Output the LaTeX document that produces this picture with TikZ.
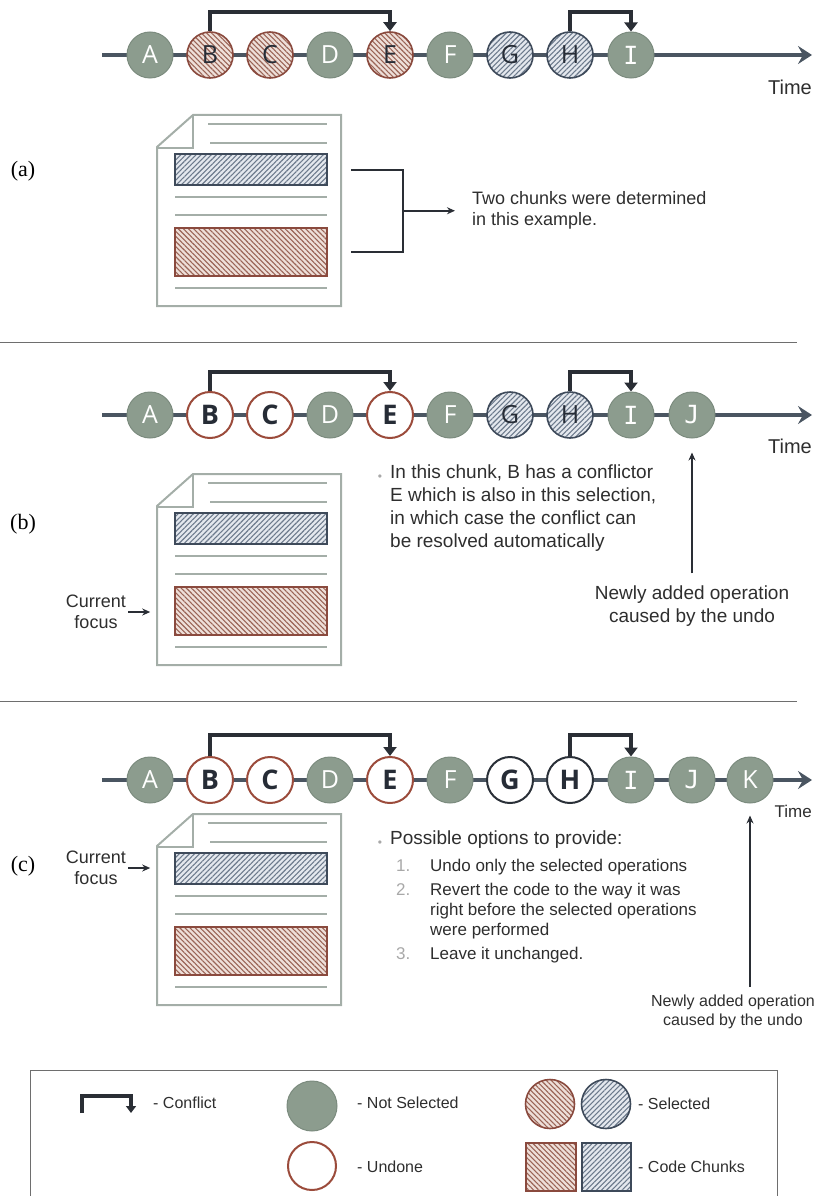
\documentclass[tikz,border=0pt]{standalone}
\usepackage{fontspec}
\setmainfont{Liberation Sans}
\newfontfamily\labelfont{Liberation Serif}
\newfontfamily\opfont{Open Sans}
\newfontfamily\opmono{DejaVu Sans Mono}
\usetikzlibrary{arrows.meta,patterns.meta,calc}

\definecolor{nsfill}{HTML}{8C9C8E}
\definecolor{nsedge}{HTML}{7B8B7E}
\definecolor{tline}{HTML}{4A5561}
\definecolor{conf}{HTML}{2A2E35}
\definecolor{undoneedge}{HTML}{9B4B3B}
\definecolor{darkedge}{HTML}{2A3038}
\definecolor{letterdark}{HTML}{262C36}
\definecolor{redbg}{HTML}{EEDFD9}
\definecolor{redhatch}{HTML}{9A6456}
\definecolor{rededge}{HTML}{8A4A3E}
\definecolor{bluebg}{HTML}{E4E8EE}
\definecolor{bluehatch}{HTML}{6C7A8C}
\definecolor{blueedge}{HTML}{3E4A5A}
\definecolor{docgrey}{HTML}{A4AEA8}
\definecolor{sepgrey}{HTML}{6E6E6E}
\definecolor{txt}{HTML}{2E2E2E}
\definecolor{numgrey}{HTML}{A8A8A8}

\tikzset{
  op/.style={circle, minimum size=46pt, inner sep=0pt,
    font=\opfont\fontsize{25}{25}\selectfont},
  notsel/.style={op, fill=nsfill, draw=nsedge, line width=1pt, text=white},
  undone/.style={op, fill=white, draw=undoneedge, line width=2pt, text=letterdark,
    font=\opfont\bfseries\fontsize{27}{27}\selectfont},
  undonedark/.style={undone, draw=darkedge},
  selred/.style={op, draw=rededge, line width=1.6pt, text=letterdark,
    preaction={fill=redbg},
    pattern={Lines[angle=-45,distance=3.6pt,line width=1.1pt]}, pattern color=redhatch},
  selblue/.style={op, draw=blueedge, line width=1.6pt, text=letterdark,
    preaction={fill=bluebg},
    pattern={Lines[angle=45,distance=3.6pt,line width=1.1pt]}, pattern color=bluehatch},
  chunkred/.style={rectangle, inner sep=0pt, draw=rededge, line width=2pt,
    preaction={fill=redbg},
    pattern={Lines[angle=-45,distance=3.6pt,line width=1.1pt]}, pattern color=redhatch},
  chunkblue/.style={rectangle, inner sep=0pt, draw=blueedge, line width=2pt,
    preaction={fill=bluebg},
    pattern={Lines[angle=45,distance=3.6pt,line width=1.1pt]}, pattern color=bluehatch},
  timeline/.style={draw=tline, line width=4pt,
    -{Stealth[length=14pt,width=18pt,inset=5pt]}},
  conflict/.style={draw=conf, line width=4pt, line join=miter,
    -{Triangle[length=9pt,width=13pt]}},
  thinarrow/.style={draw=conf, line width=1.6pt, -{Stealth[length=8pt,width=7pt]}},
  bracket/.style={draw=conf, line width=2pt},
  docline/.style={draw=docgrey, line width=2pt},
  textline/.style={draw=docgrey, line width=2.5pt},
  sep/.style={draw=sepgrey, line width=1pt},
  body/.style={text=txt, font=\fontsize{19}{23}\selectfont, inner sep=0pt},
  small/.style={text=txt, font=\fontsize{18}{21}\selectfont, inner sep=0pt},
  timelabel/.style={text=txt, font=\fontsize{20}{20}\selectfont, inner sep=0pt, anchor=east},
  legendtext/.style={text=txt, font=\fontsize{16}{18}\selectfont, inner sep=0pt, anchor=west},
  partlabel/.style={text=black, font=\labelfont\fontsize{22}{22}\selectfont, inner sep=0pt},
  bulletdot/.style={text=numgrey, font=\fontsize{12}{12}\selectfont, inner sep=0pt},
  docpage/.pic={
    \draw[docline] (36,0) -- (184,0) -- (184,191) -- (0,191) -- (0,32) -- cycle;
    \draw[docline] (36,0) -- (36,33) -- (0,33);
    \draw[textline] (51,9) -- (170,9);
    \draw[textline] (53,28) -- (170,28);
    \node[chunkblue, minimum width=152pt, minimum height=31pt] (-blue) at (94,54.5) {};
    \draw[textline] (18,82) -- (170,82);
    \draw[textline] (18,100) -- (170,100);
    \node[chunkred, minimum width=152pt, minimum height=48pt] (-red) at (94,137) {};
    \draw[textline] (18,173) -- (170,173);
  }
}

\begin{document}
\begin{tikzpicture}[x=1pt, y=-1pt]
\useasboundingbox (0,0) rectangle (822,1196);

% ---------------- (a) ----------------
\coordinate (a-start) at (102,55);
\coordinate (a-end) at (812,55);
\draw[timeline] (a-start) -- (a-end);
\node[notsel] (aA) at (150,55) {A};
\node[selred] (aB) at (210,55) {B};
\node[selred] (aC) at (270,55) {C};
\node[notsel] (aD) at (330,55) {D};
\node[selred] (aE) at (390,55) {E};
\node[notsel] (aF) at (450,55) {F};
\node[selblue] (aG) at (510,55) {G};
\node[selblue] (aH) at (570,55) {H};
\node[notsel] (aI) at (631,55) {\opmono I};
\draw[conflict] (aB.north) -- ++(0,-19) -| (aE.north);
\draw[conflict] (aH.north) -- ++(0,-19) -| (aI.north);
\node[timelabel] (atime) at (812,87) {Time};

\node[partlabel] (la) at (23,171) {(a)};
\pic (da) at (157,115) {docpage};
\coordinate (brtop) at ($(da-blue.east)+(23,0)$);
\coordinate (brbot) at ($(da-red.east)+(23,0)$);
\coordinate (brmid) at ($(brtop)!0.5!(brbot)+(52,0)$);
\draw[bracket] (brtop) -- ++(52,0) |- (brbot);
\node[small, anchor=west, align=left] (atext) at (472,210)
  {Two chunks were determined\\in this example.};
\draw[thinarrow] (brmid) -- ($(atext.west |- brmid)+(-17,0)$);

\draw[sep] (0,342) -- (797,342);

% ---------------- (b) ----------------
\coordinate (b-start) at (102,415);
\coordinate (b-end) at (812,415);
\draw[timeline] (b-start) -- (b-end);
\node[notsel] (bA) at (150,415) {A};
\node[undone] (bB) at (210,415) {B};
\node[undone] (bC) at (270,415) {C};
\node[notsel] (bD) at (330,415) {D};
\node[undone] (bE) at (390,415) {E};
\node[notsel] (bF) at (450,415) {F};
\node[selblue] (bG) at (510,415) {G};
\node[selblue] (bH) at (570,415) {H};
\node[notsel] (bI) at (631,415) {\opmono I};
\node[notsel] (bJ) at (692,415) {\opmono J};
\draw[conflict] (bB.north) -- ++(0,-19) -| (bE.north);
\draw[conflict] (bH.north) -- ++(0,-19) -| (bI.north);
\node[timelabel] (btime) at (812,446) {Time};

\node[partlabel] (lb) at (23,524) {(b)};
\pic (db) at (157,474) {docpage};
\node[small, align=center] (bfocus) at (96,612) {Current\\focus};
\draw[thinarrow] ([xshift=2pt]bfocus.east) -- ++(22,0);

\node[bulletdot] (bdot) at (380,478) {•};
\node[body, anchor=north west, align=left] (btext) at (390,465)
  {In this chunk, B has a conflictor\\E which is also in this selection,\\in which case the conflict can\\be resolved automatically};

\node[body, align=center] (bnew) at (692,606) {Newly added operation\\caused by the undo};
\draw[thinarrow] ([yshift=12pt]bnew.north) -- ([yshift=-14pt]bJ.south);

\draw[sep] (0,701) -- (797,701);

% ---------------- (c) ----------------
\coordinate (c-start) at (102,780);
\coordinate (c-end) at (812,780);
\draw[timeline] (c-start) -- (c-end);
\node[notsel] (cA) at (150,780) {A};
\node[undone] (cB) at (210,780) {B};
\node[undone] (cC) at (270,780) {C};
\node[notsel] (cD) at (330,780) {D};
\node[undone] (cE) at (390,780) {E};
\node[notsel] (cF) at (450,780) {F};
\node[undonedark] (cG) at (510,780) {G};
\node[undonedark] (cH) at (570,780) {H};
\node[notsel] (cI) at (631,780) {\opmono I};
\node[notsel] (cJ) at (692,780) {\opmono J};
\node[notsel] (cK) at (750,780) {K};
\draw[conflict] (cB.north) -- ++(0,-21) -| (cE.north);
\draw[conflict] (cH.north) -- ++(0,-21) -| (cI.north);
\node[timelabel, font=\fontsize{17}{17}\selectfont] (ctime) at (812,811) {Time};

\node[partlabel] (lc) at (23,866) {(c)};
\pic (dc) at (157,814) {docpage};
\node[small, align=center] (cfocus) at (96,868) {Current\\focus};
\draw[thinarrow] ([xshift=2pt]cfocus.east) -- ++(22,0);

\node[bulletdot] (cdot) at (380,844) {•};
\node[body, anchor=north west, align=left] (ctext) at (390,831)
  {Possible options to provide:};
\node[anchor=north west, inner sep=0pt, text=txt,
      font=\fontsize{17}{20}\selectfont] (clist) at (396,857)
  {\begin{tabular}{@{}p{34pt}@{}l@{}}
   \textcolor{numgrey}{1.} & Undo only the selected operations\\[4pt]
   \textcolor{numgrey}{2.} & Revert the code to the way it was\\
                           & right before the selected operations\\
                           & were performed\\[4pt]
   \textcolor{numgrey}{3.} & Leave it unchanged.
   \end{tabular}};

\node[text=txt, inner sep=0pt, align=center, font=\fontsize{16}{19}\selectfont]
  (cnew) at (733,1012) {Newly added operation\\caused by the undo};
\coordinate (cnewfoot) at (750,987);
\draw[thinarrow] (cnewfoot) -- ([yshift=-12pt]cK.south);

% ---------------- legend ----------------
\draw[line width=1pt, draw=sepgrey] (30,1070) rectangle (777,1205);
\coordinate (lg1) at (82,1113);
\coordinate (lg2) at (131,1113);
\draw[conflict, line width=3.5pt, -{Triangle[length=7pt,width=10pt]}]
  (lg1) -- ++(0,-17) -| (lg2);
\node[legendtext] (tconf) at (153,1103) {- Conflict};

\node[notsel, minimum size=50pt] (lns) at (312,1106) {};
\node[legendtext] (tns) at (357,1103) {- Not Selected};
\node[undone, minimum size=48pt] (lud) at (312,1166) {};
\node[legendtext] (tud) at (357,1167) {- Undone};

\node[selred, minimum size=49pt] (lsr) at (550,1104) {};
\node[selblue, minimum size=49pt] (lsb) at (606,1104) {};
\node[legendtext] (tsel) at (638,1104) {- Selected};
\node[chunkred, minimum width=50pt, minimum height=48pt] (lcr) at (551,1167) {};
\node[chunkblue, minimum width=49pt, minimum height=48pt] (lcb) at (606.5,1167) {};
\node[legendtext] (tcc) at (638,1167) {- Code Chunks};
\end{tikzpicture}
\end{document}
